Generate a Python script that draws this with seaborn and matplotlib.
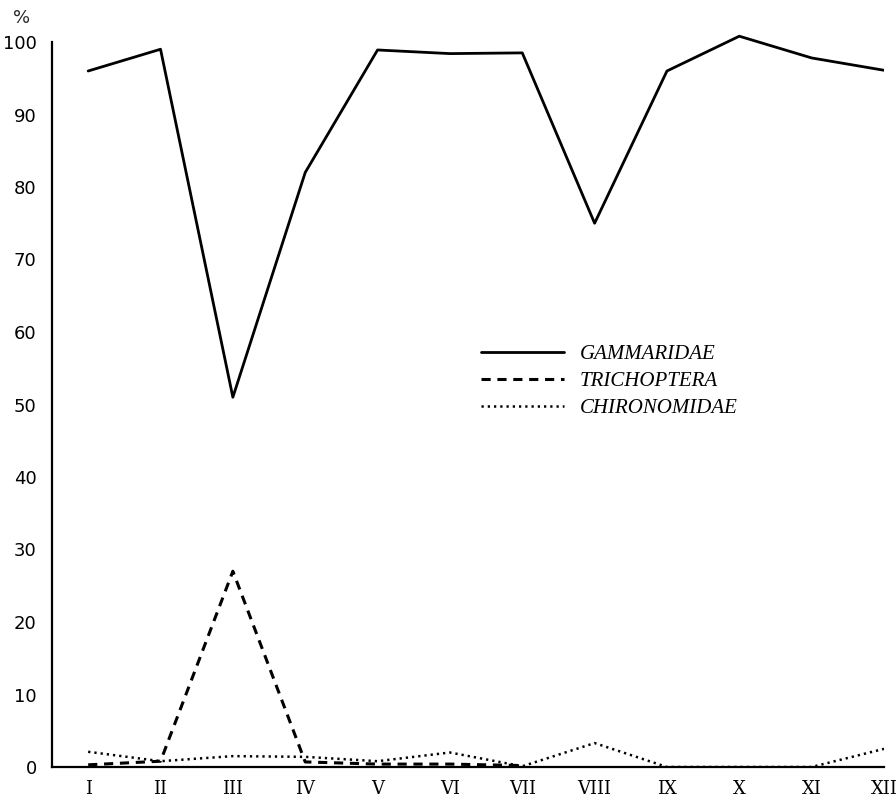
import numpy as np
import pandas as pd
import matplotlib
matplotlib.use("Agg")
import matplotlib.pyplot as plt
import seaborn as sns

months = ["I", "II", "III", "IV", "V", "VI", "VII", "VIII", "IX", "X", "XI", "XII"]
gammaridae = [96, 99, 51, 82, 98.9, 98.4, 98.5, 75, 96, 100.8, 97.8, 96.1]
trichoptera = [0.3, 0.8, 27, 0.7, 0.4, 0.4, 0.2, np.nan, np.nan, np.nan, np.nan, np.nan]
chironomidae = [2.1, 0.8, 1.5, 1.4, 0.8, 2.0, 0.1, 3.3, 0.0, np.nan, 0.0, 2.5]
series_names = ["GAMMARIDAE", "TRICHOPTERA", "CHIRONOMIDAE"]
y_ticks = list(range(0, 101, 10))

sns.set_style("white")
plt.rcParams['font.family'] = ['DejaVu Sans']

YTOP = 102
fig = plt.figure(figsize=(8.96, 8.08), dpi=100)
h_px = 725 * YTOP / 100
ax = fig.add_axes([52/896, 41/808, (884-52)/896, h_px/808])

x = np.arange(1, 13)
df = pd.DataFrame({"x": x, "g": gammaridae, "t": trichoptera, "c": chironomidae})

sns.lineplot(data=df, x="x", y="g", ax=ax, color="black", lw=2.0, linestyle="-", label=series_names[0])
sns.lineplot(data=df, x="x", y="t", ax=ax, color="black", lw=2.2, linestyle=(0, (3, 2.2)), label=series_names[1])
sns.lineplot(data=df, x="x", y="c", ax=ax, color="black", lw=1.8, linestyle=(0, (0.9, 1.6)), label=series_names[2])

ax.set_xlim(0.5, 12)
ax.set_ylim(0, YTOP)
ax.spines["left"].set_bounds(0, 100)
ax.set_xticks(x)
ax.set_xticklabels(months, family="DejaVu Serif", fontsize=13, color="black")
ax.set_yticks(y_ticks)
ax.set_yticklabels([str(v) for v in y_ticks], fontsize=13, color="black")
ax.set_xlabel("")
ax.set_ylabel("")
for s in ["top", "right"]:
    ax.spines[s].set_visible(False)
for s in ["left", "bottom"]:
    ax.spines[s].set_linewidth(1.6)
    ax.spines[s].set_color("black")
ax.tick_params(axis="both", direction="out", length=7, width=1.4, color="black", pad=4)
ax.tick_params(axis="x", pad=2)

fig.text(22/896, 1 - 18/808, "%", fontsize=13, ha="center", va="center")

leg = ax.legend(loc="upper left", bbox_to_anchor=(462/896, 1 - 326/808), bbox_transform=fig.transFigure,
                frameon=False, handlelength=4.0, handletextpad=0.75, labelspacing=0.35,
                prop={"family": "Liberation Serif", "style": "italic", "size": 15})
for t in leg.get_texts():
    t.set_color("black")

fig.savefig("out.png", dpi=100)
